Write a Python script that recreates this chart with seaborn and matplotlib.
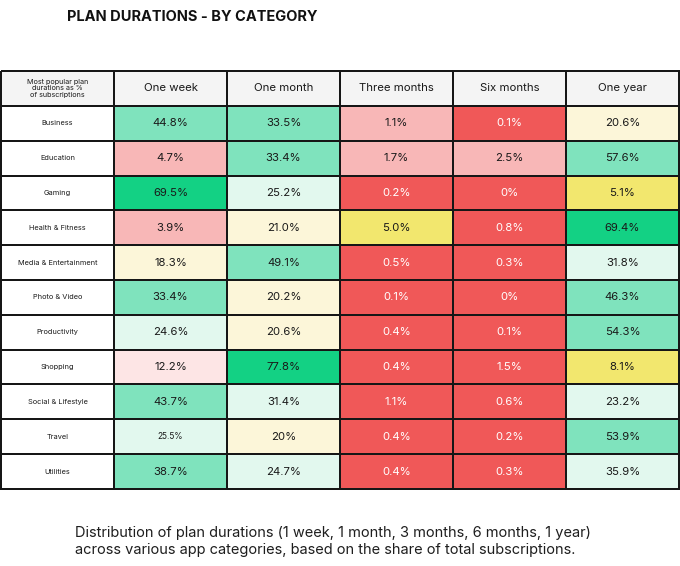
import numpy as np
import matplotlib
matplotlib.use("Agg")
import matplotlib.pyplot as plt
from matplotlib.colors import ListedColormap
import seaborn as sns

sns.set_theme(style="white")
plt.rcParams['font.family'] = ['Inter', 'DejaVu Sans']

# data
durations = ["One week", "One month", "Three months", "Six months", "One year"]
categories = ["Business", "Education", "Gaming", "Health & Fitness", "Media & Entertainment",
              "Photo & Video", "Productivity", "Shopping", "Social & Lifestyle", "Travel", "Utilities"]
labels = [
    ["44.8%", "33.5%", "1.1%", "0.1%", "20.6%"],
    ["4.7%", "33.4%", "1.7%", "2.5%", "57.6%"],
    ["69.5%", "25.2%", "0.2%", "0%", "5.1%"],
    ["3.9%", "21.0%", "5.0%", "0.8%", "69.4%"],
    ["18.3%", "49.1%", "0.5%", "0.3%", "31.8%"],
    ["33.4%", "20.2%", "0.1%", "0%", "46.3%"],
    ["24.6%", "20.6%", "0.4%", "0.1%", "54.3%"],
    ["12.2%", "77.8%", "0.4%", "1.5%", "8.1%"],
    ["43.7%", "31.4%", "1.1%", "0.6%", "23.2%"],
    ["25.5%", "20%", "0.4%", "0.2%", "53.9%"],
    ["38.7%", "24.7%", "0.4%", "0.3%", "35.9%"],
]
# rating per cell: 0 red, 1 pink, 2 light pink, 3 yellow, 4 light yellow,
# 5 light green, 6 green, 7 dark green
rating = [
    [6, 6, 1, 0, 4],
    [1, 6, 1, 1, 6],
    [7, 5, 0, 0, 3],
    [1, 4, 3, 0, 7],
    [4, 6, 0, 0, 5],
    [6, 4, 0, 0, 6],
    [5, 4, 0, 0, 6],
    [2, 7, 0, 0, 3],
    [6, 5, 0, 0, 5],
    [5, 4, 0, 0, 6],
    [6, 5, 0, 0, 5],
]
corner = "Most popular plan\ndurations as %\nof subscriptions"

palette = ["#f05858", "#f8b7b7", "#fde5e5", "#f2e76e", "#fcf6d9",
           "#e2f8ee", "#7fe3bd", "#13d184", "#ffffff", "#f4f4f4"]

# grid with header row (9) and label column (8)
nr, nc = len(categories), len(durations)
grid = np.zeros((nr + 1, nc + 1))
grid[0, :] = 9
grid[1:, 0] = 8
grid[1:, 1:] = np.array(rating)

fig = plt.figure(figsize=(6.8, 5.66), dpi=100)
ax = fig.add_axes([0.0015, 1 - 489 / 566, 0.997, (489 - 71) / 566])
sns.heatmap(grid, cmap=ListedColormap(palette), vmin=-0.5, vmax=9.5, cbar=False,
            linewidths=1.4, linecolor="#161616", ax=ax, xticklabels=False, yticklabels=False)
for c in ax.collections:
    c.set_clip_on(False)

ink = "#1a1a1a"
ax.text(0.5, 0.5, corner, ha="center", va="center", fontsize=5.2, color=ink, linespacing=1.15)
for j, d in enumerate(durations):
    ax.text(j + 1.5, 0.5, d, ha="center", va="center", fontsize=8.2, color=ink)
for i, cat in enumerate(categories):
    ax.text(0.5, i + 1.5, cat, ha="center", va="center", fontsize=5.3, color=ink)
    for j in range(nc):
        txt = labels[i][j]
        col = "white" if rating[i][j] == 0 else ink
        fs = 6 if (cat == "Travel" and j == 0) else 8.2
        ax.text(j + 1.5, i + 1.5, txt, ha="center", va="center", fontsize=fs, color=col)

fig.text(67 / 680, 1 - 17 / 566, "PLAN DURATIONS - BY CATEGORY", ha="left", va="center",
         fontsize=10.5, fontweight="bold", color="#111111")
fig.text(75 / 680, 1 - 533 / 566, "Distribution of plan durations (1 week, 1 month, 3 months, 6 months, 1 year)",
         ha="left", va="center", fontsize=10.5, color="#1e1e1e")
fig.text(75 / 680, 1 - 550 / 566, "across various app categories, based on the share of total subscriptions.",
         ha="left", va="center", fontsize=10.5, color="#1e1e1e")

fig.savefig("out.png", dpi=100, facecolor="white")
